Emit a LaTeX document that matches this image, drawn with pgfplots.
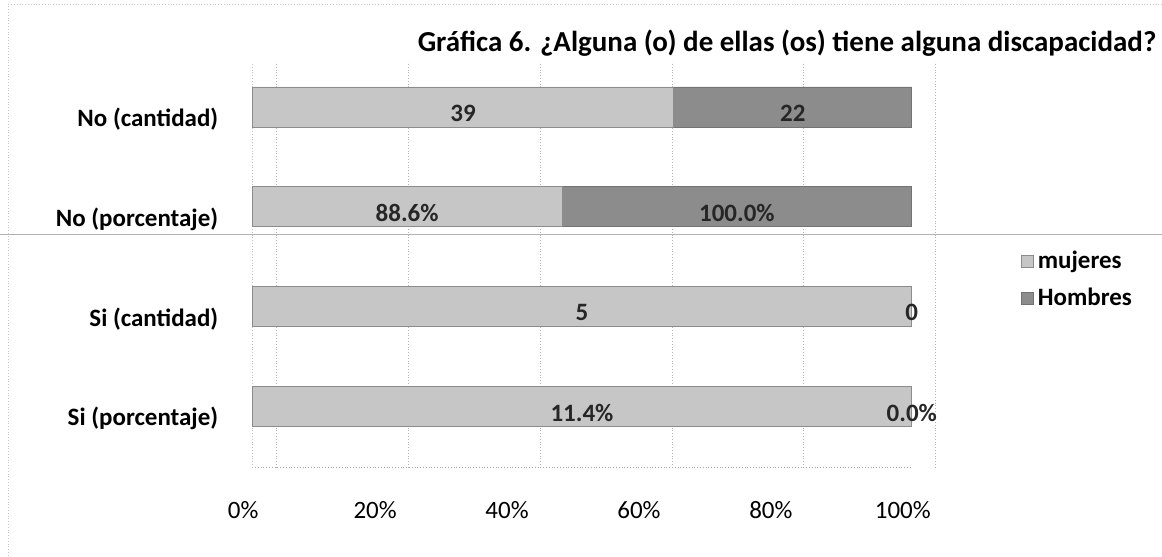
\documentclass[border=0pt]{standalone}
\usepackage{pgfplots}
\pgfplotsset{compat=1.18}
\usepackage{pgfplotstable}
\usepackage{fontspec}
\setmainfont{Carlito}
\definecolor{mujcol}{HTML}{C6C6C6}
\definecolor{homcol}{HTML}{8C8C8C}
\pgfplotstableread{
pos   mpct   hpct   mlab     hlab
0     100    0      11.4\%   0.0\%
1     100    0      5        0
2     46.98  53.02  88.6\%   100.0\%
3     63.93  36.07  39       22
}\data
\pgfplotsset{chartgeom/.style={
  at={(126pt,44pt)}, anchor=south west,
  scale only axis, width=330pt, height=203pt,
  xmin=0, xmax=100, ymin=-0.61, ymax=3.45}}
\begin{document}
\begin{tikzpicture}
\path (0pt,0pt) rectangle (581pt,278pt);
\draw[gray!60, line width=0.4pt] (0pt,160.5pt) -- (581pt,160.5pt);
\draw[gray!45, densely dotted, line width=0.4pt] (4pt,0pt) -- (4pt,276pt);
\draw[gray!45, densely dotted, line width=0.4pt] (4pt,276pt) -- (581pt,276pt);
\node[anchor=base east, inner sep=0pt, font=\fontsize{14.5}{17}\selectfont\bfseries] at (578.5pt,252pt)
  {Gráfica 6. ¿Alguna (o) de ellas (os) tiene alguna discapacidad?};
\begin{axis}[
  chartgeom,
  xbar stacked, bar width=20pt,
  xtick={0,20,40,60,80,100},
  xticklabels={0\%,20\%,40\%,60\%,80\%,100\%},
  ytick={0,1,2,3},
  yticklabels={Si (porcentaje),Si (cantidad),No (porcentaje),No (cantidad)},
  major tick length=0pt,
  xmajorgrids, major grid style={densely dotted, gray!60, xshift=12pt},
  axis x line=bottom, axis y line=left,
  x axis line style={densely dotted, gray!70, -},
  y axis line style={densely dotted, gray!50, -},
  xticklabel style={font=\fontsize{12.5}{14}\selectfont, yshift=-13.5pt, xshift=-4.5pt},
  yticklabel style={font=\fontsize{12.5}{14}\selectfont\bfseries, xshift=-13.5pt, yshift=-6pt},
  legend style={at={(1.156,0.463)}, anchor=west, draw=none, fill=none,
    font=\fontsize{12.5}{14}\selectfont\bfseries, row sep=4.5pt,
    legend cell align=left},
  legend image code/.code={\fill[#1] (0pt,-3pt) rectangle (6pt,3pt);},
  point meta=explicit symbolic,
  nodes near coords,
  every node near coord/.append style={font=\fontsize{12.5}{14}\selectfont\bfseries, text=black!85, yshift=-3pt},
]
\addplot[draw=black!45, line width=0.4pt, fill=mujcol] table[x=mpct, y=pos, meta=mlab] {\data};
\addlegendentry{mujeres}
\addplot[draw=black!55, line width=0.4pt, fill=homcol] table[x=hpct, y=pos, meta=hlab] {\data};
\addlegendentry{Hombres}
\end{axis}
\begin{axis}[chartgeom, hide axis]
\addplot[only marks, mark=none, point meta=explicit symbolic, nodes near coords,
  every node near coord/.append style={anchor=center, yshift=-3pt, font=\fontsize{12.5}{14}\selectfont\bfseries, text=black!85}]
  table[x=x, y=y, meta=lab] {
x    y   lab
100  0   0.0\%
100  1   0
};
\end{axis}
\end{tikzpicture}
\end{document}
